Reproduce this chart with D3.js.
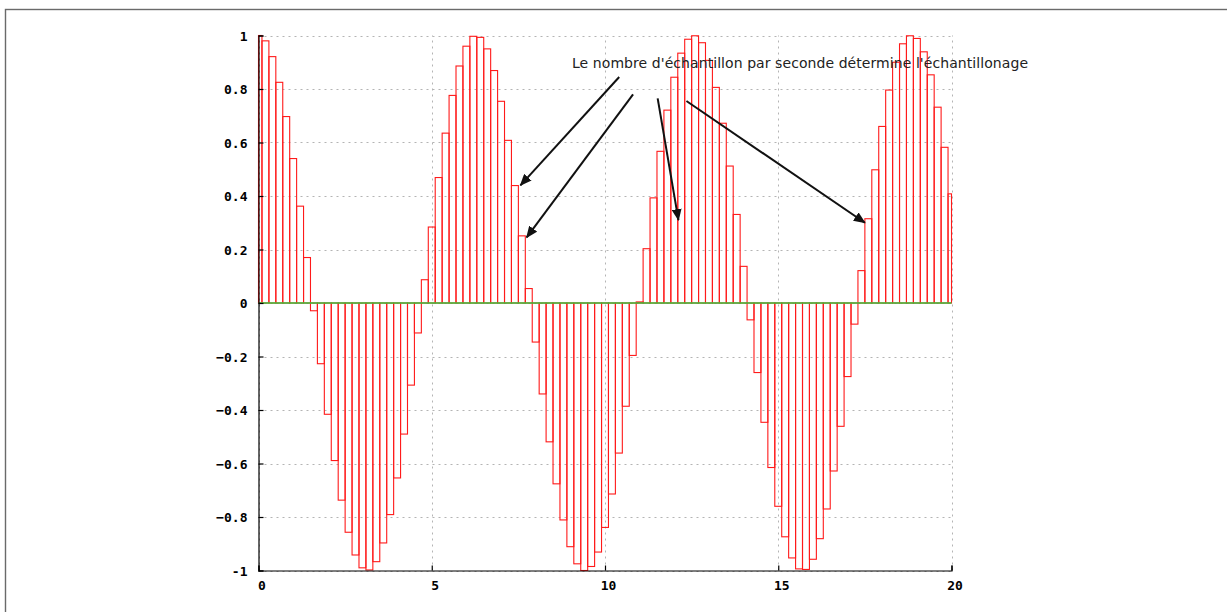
<!DOCTYPE html>
<html>
<head>
<meta charset="utf-8">
<script src="https://cdn.jsdelivr.net/npm/d3@7"></script>
<style>
  html, body { margin: 0; padding: 0; background: #fff; }
  svg { display: block; }
</style>
</head>
<body>
<svg id="chart" width="1227" height="612"></svg>
<script>
const sampleStep = 0.2;
const sampleTimes = d3.range(0, 101).map(k => +(k * sampleStep).toFixed(1));
const sampleValues = [
  1.000, 0.980, 0.921, 0.825, 0.697, 0.540, 0.362, 0.170, -0.029, -0.227,
  -0.416, -0.589, -0.737, -0.857, -0.942, -0.990, -0.998, -0.967, -0.897, -0.791,
  -0.654, -0.490, -0.307, -0.112, 0.087, 0.284, 0.469, 0.635, 0.776, 0.886,
  0.960, 0.997, 0.993, 0.950, 0.869, 0.754, 0.608, 0.439, 0.251, 0.054,
  -0.146, -0.340, -0.519, -0.676, -0.811, -0.911, -0.975, -1.000, -0.985, -0.931,
  -0.839, -0.714, -0.561, -0.386, -0.196, 0.004, 0.203, 0.393, 0.567, 0.721,
  0.844, 0.934, 0.986, 0.999, 0.973, 0.907, 0.806, 0.672, 0.512, 0.331,
  0.137, -0.063, -0.260, -0.446, -0.615, -0.760, -0.874, -0.953, -0.994, -0.996,
  -0.958, -0.881, -0.770, -0.628, -0.461, -0.275, -0.079, 0.121, 0.315, 0.498,
  0.660, 0.796, 0.900, 0.969, 0.999, 0.989, 0.939, 0.853, 0.732, 0.582,
  0.408
];
const xTicks = [0, 5, 10, 15, 20];
const yTicks = [-1, -0.8, -0.6, -0.4, -0.2, 0, 0.2, 0.4, 0.6, 0.8, 1];
const annotationText = "Le nombre d'échantillon par seconde détermine l'échantillonage";
// arrows: [fromX, fromY, toX, toY] in data units
const arrows = [
  [10.41, 0.845, 7.56, 0.44],
  [10.81, 0.78, 7.74, 0.245],
  [11.52, 0.765, 12.12, 0.31],
  [12.35, 0.755, 17.5, 0.30]
];

const svg = d3.select("#chart");
const x = d3.scaleLinear().domain([0, 20]).range([258.5, 951.5]);
const y = d3.scaleLinear().domain([-1, 1]).range([570.5, 35.5]);

// outer frame
svg.append("rect")
  .attr("x", 5.5).attr("y", 9.5)
  .attr("width", 1240).attr("height", 620)
  .attr("fill", "none").attr("stroke", "#6a6a6a").attr("stroke-width", 1.4);

// grid
const grid = svg.append("g").attr("stroke", "#b4b4b4").attr("stroke-width", 1)
  .attr("stroke-dasharray", "2,4");
grid.selectAll("line.h").data(yTicks).join("line")
  .attr("x1", x(0)).attr("x2", x(20))
  .attr("y1", d => Math.round(y(d)) + 0.5).attr("y2", d => Math.round(y(d)) + 0.5);
grid.selectAll("line.v").data(xTicks).join("line")
  .attr("y1", y(-1)).attr("y2", y(1))
  .attr("x1", d => Math.round(x(d)) + 0.5).attr("x2", d => Math.round(x(d)) + 0.5);

// bars (zero-order hold samples, centered on sample times)
const bars = svg.append("g").attr("fill", "none").attr("stroke", "#ff1a1a").attr("stroke-width", 1.1);
bars.selectAll("rect").data(sampleTimes.map((t, i) => ({ t, v: sampleValues[i] }))).join("rect")
  .attr("x", d => x(Math.max(0, d.t - sampleStep / 2)))
  .attr("width", d => x(Math.min(20, d.t + sampleStep / 2)) - x(Math.max(0, d.t - sampleStep / 2)))
  .attr("y", d => y(Math.max(0, d.v)))
  .attr("height", d => Math.abs(y(d.v) - y(0)));

// zero baseline
svg.append("line")
  .attr("x1", x(0)).attr("x2", x(20))
  .attr("y1", y(0)).attr("y2", y(0))
  .attr("stroke", "#3cbf3c").attr("stroke-width", 1.3);

// axes
const xAxis = d3.axisBottom(x).tickValues(xTicks).tickSize(-5).tickPadding(10)
  .tickFormat(d3.format("d"));
const yAxis = d3.axisLeft(y).tickValues(yTicks).tickSize(-5).tickPadding(11)
  .tickFormat(d => d === 0 ? "0" : (d === 1 || d === -1) ? String(d) : d3.format(".1f")(d));

const gx = svg.append("g").attr("transform", `translate(0,${y(-1)})`).call(xAxis);
const gy = svg.append("g").attr("transform", `translate(${x(0)},0)`).call(yAxis);
[gx, gy].forEach(g => {
  g.select(".domain").attr("stroke", "#000").attr("stroke-width", 1.2);
  g.selectAll(".tick line").attr("stroke", "#000").attr("stroke-width", 1.2);
  g.selectAll(".tick text")
    .attr("fill", "#000")
    .style("font-family", "'DejaVu Sans Mono', monospace")
    .style("font-weight", "bold")
    .style("font-size", "13px");
});
gx.selectAll(".tick text").attr("dx", 3);
gy.selectAll(".tick text").attr("dy", "0.38em");

// annotation text
svg.append("text")
  .attr("x", 572).attr("y", 68)
  .style("font-family", "'DejaVu Sans', sans-serif")
  .style("font-size", "14px")
  .attr("fill", "#222")
  .attr("textLength", 456)
  .attr("lengthAdjust", "spacing")
  .text(annotationText);

// arrows
const defs = svg.append("defs");
defs.append("marker")
  .attr("id", "arrowhead")
  .attr("viewBox", "0 0 12 10")
  .attr("refX", 11).attr("refY", 5)
  .attr("markerWidth", 12).attr("markerHeight", 10)
  .attr("markerUnits", "userSpaceOnUse")
  .attr("orient", "auto")
  .append("path").attr("d", "M0,0 L12,5 L0,10 Z").attr("fill", "#111");

svg.append("g").selectAll("line").data(arrows).join("line")
  .attr("x1", d => x(d[0])).attr("y1", d => y(d[1]))
  .attr("x2", d => x(d[2])).attr("y2", d => y(d[3]))
  .attr("stroke", "#111").attr("stroke-width", 2)
  .attr("marker-end", "url(#arrowhead)");
</script>
</body>
</html>
